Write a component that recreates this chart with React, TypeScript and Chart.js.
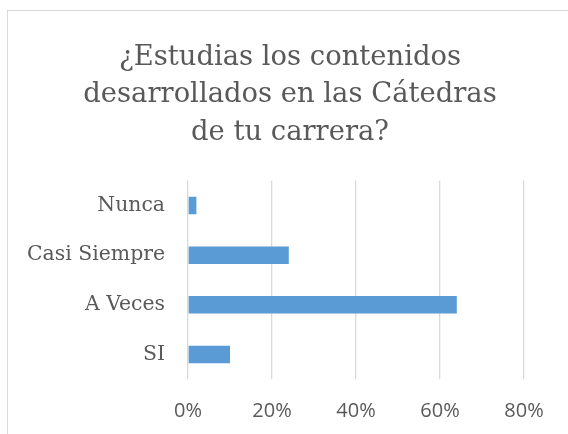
import React, { useEffect, useRef } from "react";
import { Chart, registerables } from "chart.js";

Chart.register(...registerables);

const titleLines = ["¿Estudias los contenidos", "desarrollados en las Cátedras", "de tu carrera?"];
const categories = ["Nunca", "Casi Siempre", "A Veces", "SI"];
const values = [2, 24, 64, 10];
const tickValues = [0, 20, 40, 60, 80];

export default function App() {
  const ref = useRef<HTMLCanvasElement>(null);
  useEffect(() => {
    if (!ref.current) return;
    const chart = new Chart(ref.current, {
      type: "bar",
      data: {
        labels: categories,
        datasets: [
          {
            data: values,
            backgroundColor: "#5b9bd5",
            borderWidth: 0,
            categoryPercentage: 1,
            barPercentage: 0.352,
            yAxisID: "y",
          },
        ],
      },
      options: {
        indexAxis: "y",
        animation: false,
        responsive: false,
        layout: { padding: 0 },
        plugins: {
          legend: { display: false },
          tooltip: { enabled: false },
          title: {
            display: true,
            text: titleLines,
            color: "#595959",
            font: { family: "DejaVu Serif", size: 27.4, weight: "normal", lineHeight: 1.36 },
            padding: { top: 39.4, bottom: 29.5 },
          },
        },
        scales: {
          x: {
            min: tickValues[0],
            max: tickValues[tickValues.length - 1],
            afterFit: (s: any) => {
              s.height = 54.7;
            },
            afterBuildTicks: (s: any) => {
              s.ticks = tickValues.map((v) => ({ value: v }));
            },
            ticks: {
              padding: 20,
              color: "#595959",
              font: { family: "Open Sans", size: 20 },
              callback: (v: any) => v + "%",
            },
            grid: { color: "#d9d9d9", lineWidth: 1.3, drawTicks: false },
            border: { display: false },
          },
          y: {
            position: "left",
            afterFit: (s: any) => {
              s.width = 188;
            },
            ticks: {
              padding: 23,
              color: "#595959",
              font: { family: "DejaVu Serif", size: 20.4 },
            },
            grid: { display: false, drawTicks: false },
            border: { display: false },
          },
          yRight: {
            type: "category",
            position: "right",
            afterFit: (s: any) => {
              s.width = 56;
            },
            ticks: { display: false },
            grid: { display: false, drawTicks: false },
            border: { display: false },
          },
        },
      },
    });
    return () => chart.destroy();
  }, []);
  return (
    <div style={{ position: "fixed", left: 0, top: 0, width: 568, height: 434, background: "#fff", overflow: "hidden" }}>
      <div
        style={{
          position: "absolute",
          left: 7,
          top: 10,
          width: 700,
          height: 600,
          border: "1px solid #d9d9d9",
          boxSizing: "border-box",
        }}
      />
      <canvas ref={ref} width={580} height={434} style={{ position: "absolute", left: 0, top: 0 }} />
    </div>
  );
}
